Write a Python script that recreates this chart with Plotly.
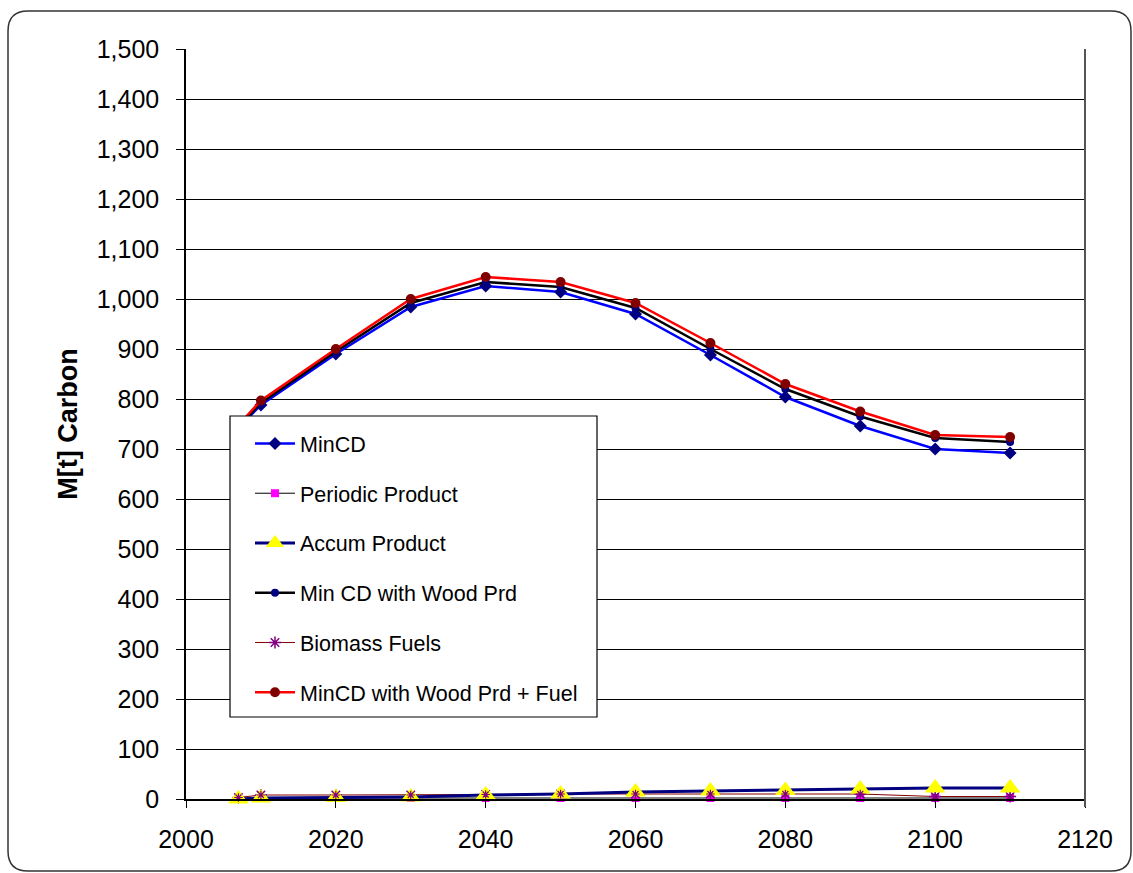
import plotly.graph_objects as go

# Carbon stock scenarios, million tonnes of carbon
years = [2007, 2010, 2020, 2030, 2040, 2050, 2060, 2070, 2080, 2090, 2100, 2110]

min_cd = [742, 788, 890, 984, 1026, 1014, 970, 888, 804, 746, 700, 692]
periodic_product = [1, 2, 2, 2, 2, 2, 2, 2, 2, 2, 2, 2]
accum_product = [0, 2, 3, 4, 8, 10, 14, 16, 17, 20, 22, 22]
min_cd_wood = [745, 792, 895, 992, 1034, 1024, 982, 900, 820, 765, 722, 714]
biomass_fuels = [3, 8, 8, 8, 9, 10, 10, 10, 10, 10, 5, 5]
min_cd_wood_fuel = [748, 797, 900, 1000, 1044, 1034, 992, 912, 830, 775, 728, 724]

y_ticks = list(range(0, 1501, 100))
x_ticks = list(range(2000, 2121, 20))

FONT = "Liberation Sans, Arial, sans-serif"

# plot area in page pixels
W, H = 1133, 873
L, R, T, B = 186, 1085, 49, 799


def px(x):
    return (x - L) / (R - L)


def py(y):
    return (B - y) / (B - T)


fig = go.Figure()

fig.add_trace(go.Scatter(
    x=years, y=min_cd, name="MinCD", mode="lines+markers",
    line=dict(color="#0000FF", width=2.5),
    marker=dict(symbol="diamond", size=10, color="#000080"),
    legendgroup="a", legendrank=1, cliponaxis=False))
fig.add_trace(go.Scatter(
    x=years, y=min_cd_wood, name="Min CD with Wood Prd", mode="lines+markers",
    line=dict(color="#000000", width=2.5),
    marker=dict(symbol="circle", size=8, color="#000080"),
    legendgroup="d", legendrank=4, cliponaxis=False))
fig.add_trace(go.Scatter(
    x=years, y=min_cd_wood_fuel, name="MinCD with Wood Prd + Fuel", mode="lines+markers",
    line=dict(color="#FF0000", width=2.5),
    marker=dict(symbol="circle", size=10, color="#800000"),
    legendgroup="f", legendrank=6, cliponaxis=False))
fig.add_trace(go.Scatter(
    x=years, y=periodic_product, name="Periodic Product", mode="lines+markers",
    line=dict(color="#000000", width=1),
    marker=dict(symbol="square", size=8, color="#FF00FF"),
    legendgroup="b", legendrank=2, cliponaxis=False))
fig.add_trace(go.Scatter(
    x=years, y=biomass_fuels, name="Biomass Fuels", mode="lines+markers",
    line=dict(color="#800000", width=1),
    marker=dict(symbol="asterisk-open", size=10, color="#800080",
                line=dict(color="#800080", width=1.5)),
    legendgroup="e", legendrank=5, cliponaxis=False))
fig.add_trace(go.Scatter(
    x=years, y=accum_product, name="Accum Product", mode="lines+markers",
    line=dict(color="#000080", width=3),
    marker=dict(symbol="triangle-up", size=18, color="#FFFF00",
                line=dict(width=0)),
    legendgroup="c", legendrank=3, cliponaxis=False))
# small biomass star marks kept visible over the triangles
fig.add_trace(go.Scatter(
    x=years, y=biomass_fuels, mode="markers",
    marker=dict(symbol="asterisk", size=7, color="#800080",
                line=dict(color="#800080", width=1.2)),
    showlegend=False, hoverinfo="skip", legendgroup="e", cliponaxis=False))

shapes = []
# rounded frame around the whole chart
x0, x1, y0, y1, r = 8, 1131, 11, 871, 20
frame = (
    f"M {px(x0 + r)},{py(y0)} L {px(x1 - r)},{py(y0)} "
    f"Q {px(x1)},{py(y0)} {px(x1)},{py(y0 + r)} "
    f"L {px(x1)},{py(y1 - r)} Q {px(x1)},{py(y1)} {px(x1 - r)},{py(y1)} "
    f"L {px(x0 + r)},{py(y1)} Q {px(x0)},{py(y1)} {px(x0)},{py(y1 - r)} "
    f"L {px(x0)},{py(y0 + r)} Q {px(x0)},{py(y0)} {px(x0 + r)},{py(y0)} Z"
)
shapes.append(dict(type="path", xref="paper", yref="paper", path=frame,
                   line=dict(color="#333333", width=1.5), layer="below"))
# right edge of plot area
shapes.append(dict(type="line", xref="paper", yref="paper",
                   x0=1, x1=1, y0=py(B + 8), y1=1,
                   line=dict(color="#555555", width=2), layer="above"))
# legend box
shapes.append(dict(type="rect", xref="paper", yref="paper",
                   x0=px(230), x1=px(597), y0=py(717), y1=py(416),
                   fillcolor="white", line=dict(color="black", width=1.2),
                   layer="above"))

fig.update_layout(
    width=W, height=H,
    margin=dict(l=L, r=W - R, t=T, b=H - B, pad=0),
    paper_bgcolor="white", plot_bgcolor="white",
    font=dict(family=FONT, color="black"),
    showlegend=True,
    legend=dict(
        x=px(250), y=py(423), xanchor="left", yanchor="top",
        bgcolor="rgba(0,0,0,0)", borderwidth=0,
        font=dict(size=21.5, family=FONT, color="black"),
        traceorder="grouped", tracegroupgap=18.8, itemwidth=40,
    ),
    xaxis=dict(
        range=[2000, 2120], tickvals=x_ticks, ticktext=[str(v) for v in x_ticks],
        showgrid=False, zeroline=False,
        showline=True, linecolor="black", linewidth=1.5,
        ticks="outside", ticklen=7, tickcolor="black",
        tickfont=dict(size=25, family=FONT), ticklabelstandoff=10,
    ),
    yaxis=dict(
        range=[0, 1500], tickvals=y_ticks,
        ticktext=[f"{v:,}" for v in y_ticks],
        showgrid=True, gridcolor="black", gridwidth=1, zeroline=False,
        showline=True, linecolor="black", linewidth=1.5,
        ticks="outside", ticklen=8, tickcolor="black",
        tickfont=dict(size=25, family=FONT), ticklabelstandoff=12,
        title=dict(text="<b>M[t] Carbon</b>", font=dict(size=27, family=FONT),
                   standoff=11),
    ),
    shapes=shapes,
)

fig.write_html("out.html")
